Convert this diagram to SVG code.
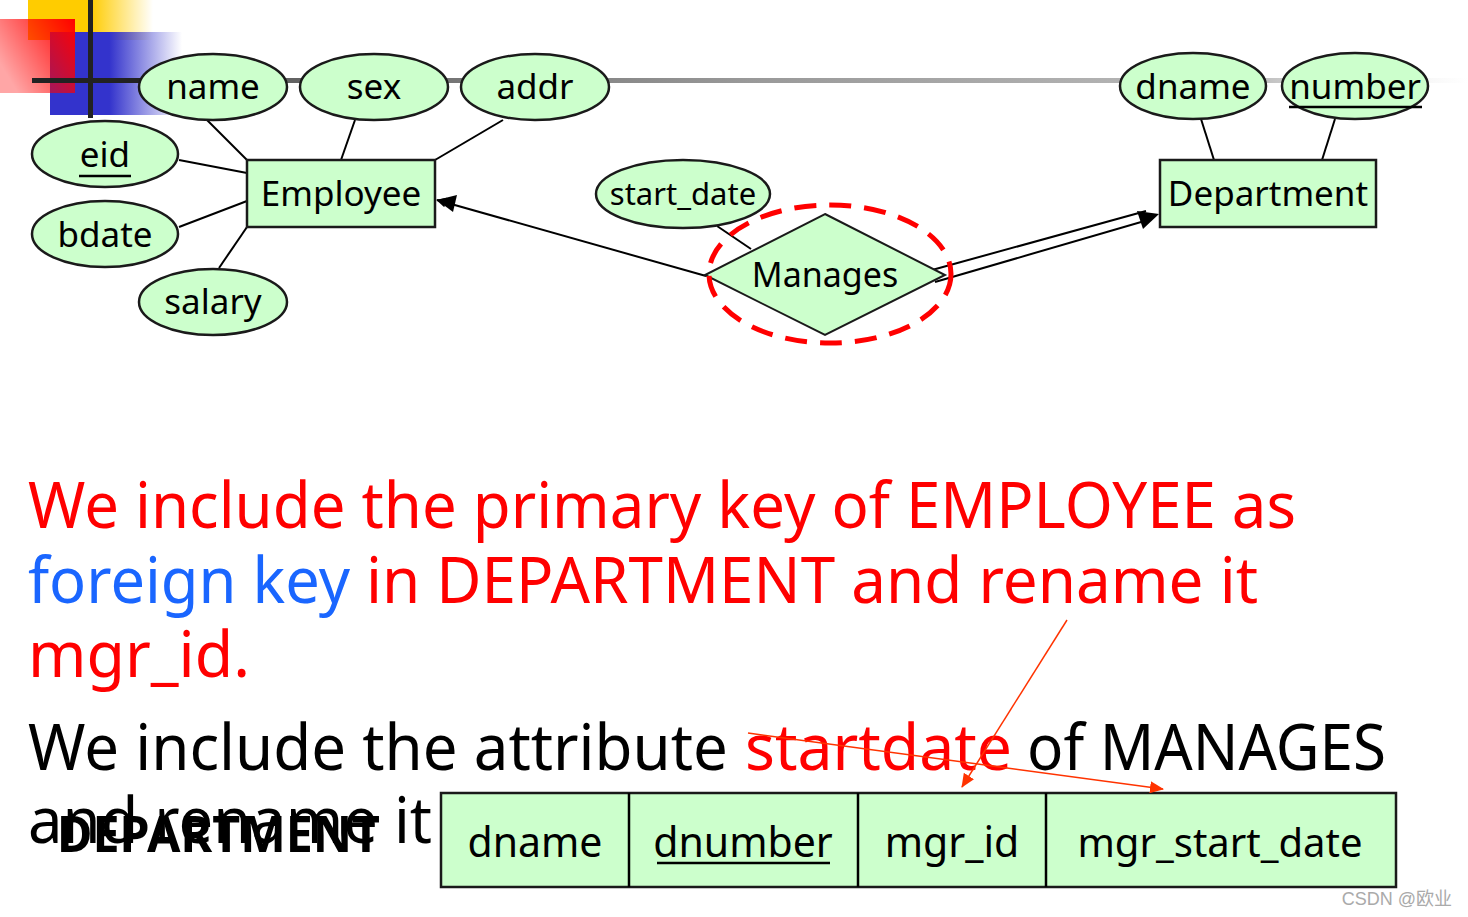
<svg xmlns="http://www.w3.org/2000/svg" width="1468" height="917" viewBox="0 0 1468 917">
<defs>
<linearGradient id="gy" x1="0" y1="0" x2="1" y2="0"><stop offset="0.5" stop-color="#ffcc00"/><stop offset="1" stop-color="#ffcc00" stop-opacity="0"/></linearGradient>
<linearGradient id="gb" x1="0" y1="0" x2="1" y2="0"><stop offset="0.45" stop-color="#3333cc"/><stop offset="1" stop-color="#3333cc" stop-opacity="0"/></linearGradient>
<linearGradient id="gr" x1="1" y1="0" x2="0" y2="0.6"><stop offset="0" stop-color="#ff0000"/><stop offset="1" stop-color="#ff0000" stop-opacity="0.35"/></linearGradient>
<linearGradient id="gl" x1="0" y1="0" x2="1" y2="0"><stop offset="0" stop-color="#222"/><stop offset="0.1" stop-color="#555"/><stop offset="0.5" stop-color="#999"/><stop offset="0.85" stop-color="#bbb"/><stop offset="1" stop-color="#ddd" stop-opacity="0"/></linearGradient>
<marker id="ah" markerWidth="10" markerHeight="10" refX="9" refY="5" orient="auto" markerUnits="userSpaceOnUse" viewBox="0 0 10 10"><path d="M0,0 L10,5 L0,10 z" fill="#000"/></marker>
<marker id="ahr" markerWidth="14" markerHeight="12" refX="13" refY="6" orient="auto" markerUnits="userSpaceOnUse" viewBox="0 0 14 12"><path d="M0,0 L14,6 L0,12 z" fill="#ff3300"/></marker>
</defs>
<style>
.ent{fill:#ccffcc;stroke:#1a1a1a;stroke-width:2.5}
.lbl{font-family:"Noto Sans","Liberation Sans",sans-serif;fill:#000;text-anchor:middle}
.ln{stroke:#000;stroke-width:2;fill:none}
.big{font-family:"Noto Sans","Liberation Sans",sans-serif;font-size:64px}
.red{fill:#ff0000}
.blk{fill:#000}
.blu{fill:#1a66ff}
</style>
<rect width="1468" height="917" fill="#fff"/>
<g id="decor">
<rect x="28" y="0" width="125" height="40" fill="url(#gy)"/>
<rect x="50" y="32" width="132" height="83" fill="url(#gb)"/>
<rect x="0" y="19" width="75" height="74" fill="url(#gr)"/>
<rect x="32" y="78" width="1436" height="5" fill="url(#gl)"/>
<rect x="32" y="78" width="110" height="5" fill="#222"/>
<rect x="88" y="0" width="5" height="118" fill="#222"/>
</g>
<g id="connectors">
<line class="ln" x1="207" y1="120" x2="247" y2="160"/>
<line class="ln" x1="355" y1="120" x2="341" y2="160"/>
<line class="ln" x1="503" y1="120" x2="435" y2="160"/>
<line class="ln" x1="179" y1="160" x2="247" y2="173"/>
<line class="ln" x1="179" y1="227" x2="247" y2="201"/>
<line class="ln" x1="219" y1="268" x2="247" y2="227"/>
<line class="ln" x1="1201" y1="119" x2="1214" y2="160"/>
<line class="ln" x1="1335" y1="119" x2="1322" y2="160"/>
<line class="ln" x1="717" y1="226" x2="751" y2="249"/>
<line class="ln" x1="706" y1="276" x2="437" y2="200" marker-end="url(#ah)" style="marker-end:url(#ah)"/>
<path d="M437,200 L457,195 L453,212 z" fill="#000"/>
<line class="ln" x1="932" y1="270" x2="1146" y2="211"/>
<line class="ln" x1="935" y1="282" x2="1148" y2="220"/>
<path d="M1159,214 L1137,211 L1143,229 z" fill="#000"/>
</g>
<g id="eid"><ellipse class="ent" cx="105" cy="154" rx="73" ry="33"/><text class="lbl" x="105" y="167" font-size="35">eid</text><line x1="79" y1="176" x2="131" y2="176" stroke="#000" stroke-width="2.5"/></g>
<g id="name"><ellipse class="ent" cx="213" cy="87" rx="74" ry="33"/><text class="lbl" x="213" y="99" font-size="35">name</text></g>
<g id="sex"><ellipse class="ent" cx="374" cy="87" rx="74" ry="33"/><text class="lbl" x="374" y="99" font-size="35">sex</text></g>
<g id="addr"><ellipse class="ent" cx="535" cy="87" rx="74" ry="33"/><text class="lbl" x="535" y="99" font-size="35">addr</text></g>
<g id="bdate"><ellipse class="ent" cx="105" cy="234" rx="73" ry="33"/><text class="lbl" x="105" y="247" font-size="35">bdate</text></g>
<g id="salary"><ellipse class="ent" cx="213" cy="302" rx="74" ry="33"/><text class="lbl" x="213" y="314" font-size="35">salary</text></g>
<g id="employee"><rect class="ent" x="247" y="160" width="188" height="67"/><text class="lbl" x="341" y="206" font-size="35">Employee</text></g>
<g id="dname"><ellipse class="ent" cx="1193" cy="86" rx="73" ry="33"/><text class="lbl" x="1193" y="99" font-size="35">dname</text></g>
<g id="number"><ellipse class="ent" cx="1355" cy="86" rx="73" ry="33"/><text class="lbl" x="1355" y="99" font-size="35">number</text><line x1="1289" y1="107" x2="1422" y2="107" stroke="#000" stroke-width="2.5"/></g>
<g id="department"><rect class="ent" x="1160" y="160" width="216" height="67"/><text class="lbl" x="1268" y="206" font-size="35">Department</text></g>
<g id="start_date"><ellipse class="ent" cx="683" cy="194" rx="87" ry="34"/><text class="lbl" x="683" y="205" font-size="31">start_date</text></g>
<g id="manages"><path class="ent" d="M825,214 L945,275 L825,335 L705,275 z" style="stroke-width:2"/><text class="lbl" x="825" y="287" font-size="34">Manages</text></g>
<g id="highlight"><ellipse cx="830" cy="274" rx="121" ry="69" fill="none" stroke="#ff0000" stroke-width="5" stroke-dasharray="22,13"/></g>
<g id="text">
<text class="big red" x="28" y="528" textLength="1268" lengthAdjust="spacingAndGlyphs">We include the primary key of EMPLOYEE as</text>
<text class="big blu" x="28" y="603" textLength="322" lengthAdjust="spacingAndGlyphs">foreign key</text>
<text class="big red" x="366" y="603" textLength="892" lengthAdjust="spacingAndGlyphs">in DEPARTMENT and rename it</text>
<text class="big red" x="28" y="677" textLength="222" lengthAdjust="spacingAndGlyphs">mgr_id.</text>
<text class="big blk" x="28" y="770" textLength="700" lengthAdjust="spacingAndGlyphs">We include the attribute</text>
<text class="big red" x="745" y="770" textLength="267" lengthAdjust="spacingAndGlyphs">startdate</text>
<text class="big blk" x="1027" y="770" textLength="359" lengthAdjust="spacingAndGlyphs">of MANAGES</text>
<text class="big blk" x="28" y="843" textLength="404" lengthAdjust="spacingAndGlyphs">and rename it</text>
<text x="57" y="852" font-family="'Noto Sans','Liberation Sans',sans-serif" font-weight="bold" font-size="50" fill="#000" textLength="323" lengthAdjust="spacingAndGlyphs">DEPARTMENT</text>
</g>
<g id="table">
<rect class="ent" x="441" y="793" width="955" height="94"/>
<line class="ln" x1="629" y1="793" x2="629" y2="887" style="stroke-width:2.5"/>
<line class="ln" x1="858" y1="793" x2="858" y2="887" style="stroke-width:2.5"/>
<line class="ln" x1="1046" y1="793" x2="1046" y2="887" style="stroke-width:2.5"/>
<text class="lbl" x="535" y="857" font-size="41">dname</text>
<text class="lbl" x="743" y="857" font-size="41">dnumber</text>
<line x1="657" y1="863" x2="830" y2="863" stroke="#000" stroke-width="2.5"/>
<text class="lbl" x="952" y="857" font-size="41">mgr_id</text>
<text class="lbl" x="1220" y="857" font-size="40">mgr_start_date</text>
</g>
<g id="red-arrows">
<line x1="1067" y1="620" x2="962" y2="787" stroke="#ff3300" stroke-width="1.5" marker-end="url(#ahr)"/>
<line x1="748" y1="733" x2="1163" y2="789" stroke="#ff3300" stroke-width="1.5" marker-end="url(#ahr)"/>
</g>
<text x="1452" y="905" text-anchor="end" font-family="'Liberation Sans','Noto Sans CJK SC',sans-serif" font-size="18" fill="#aaaaaa">CSDN @欧业</text>
</svg>
